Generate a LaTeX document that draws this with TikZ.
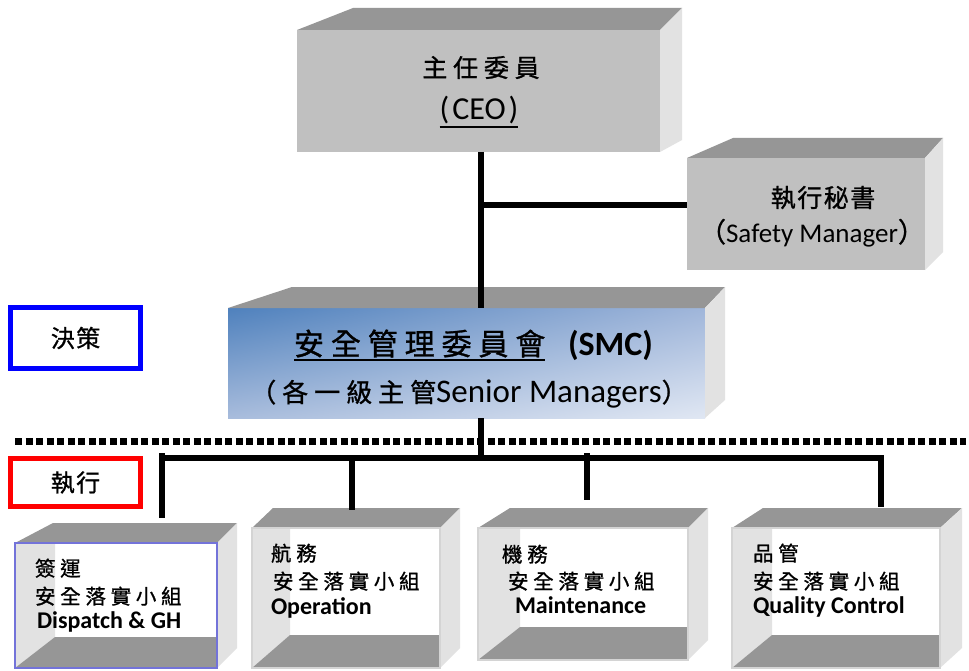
\documentclass[tikz,border=0pt]{standalone}
\usepackage{fontspec}
\setmainfont{Carlito}
\newfontfamily\cjk{Noto Sans CJK TC}[FakeBold=1]
\newfontfamily\cjkW{Noto Sans CJK TC}[LetterSpace=23,FakeBold=1]
\newfontfamily\cjkN{Noto Sans CJK TC}[LetterSpace=6,FakeBold=1]
\usetikzlibrary{calc,shadings}
\definecolor{topg}{RGB}{150,150,150}
\definecolor{frontg}{RGB}{192,192,192}
\definecolor{sideg}{RGB}{226,226,226}
\definecolor{smcUL}{RGB}{79,129,189}
\definecolor{smcUR}{RGB}{160,182,218}
\definecolor{smcLL}{RGB}{168,188,220}
\definecolor{smcLR}{RGB}{224,231,243}
\definecolor{dispblue}{RGB}{115,115,217}
\definecolor{framegray}{RGB}{212,212,212}
% open box: name, x1, y1, x2, y2, back-left x, back-right x, inner wall x, floor y
\newcommand\openbox[9]{%
  \node[face,fill=white,minimum width={#4-#2},minimum height={#5-#3}] (#1) at (#2,#3) {};
  \fill[sideg] (#1.north west) -- (#8,#3) -- (#8,#9) -- (#1.south west) -- cycle;
  \fill[topg] (#1.south west) -- (#8,#9) -- (#4,#9) -- (#1.south east) -- cycle;
  \fill[topg] (#1.north west) -- (#6,#3-20) -- (#7,#3-20) -- (#1.north east) -- cycle;
  \fill[sideg] (#1.north east) -- (#7,#3-20) -- (#7,#5-20) -- (#1.south east) -- cycle;
}
\begin{document}
\begin{tikzpicture}[x=1pt,y=-1pt,
  face/.style={inner sep=0pt,outer sep=0pt,anchor=north west},
  conn/.style={line width=5.5pt},
  txt/.style={inner sep=0pt,outer sep=0pt},
  ulin/.style={line width=1.8pt}]
\useasboundingbox[fill=white] (0,0) rectangle (969,671);

% ---------- CEO box ----------
\node[face,fill=frontg,minimum width=363pt,minimum height=122pt] (ceo) at (297,30) {};
\fill[topg] (ceo.north west) -- (353,8) -- (682,8) -- (ceo.north east) -- cycle;
\fill[sideg] (ceo.north east) -- (682,8) -- (682,140) -- (ceo.south east) -- cycle;
\node[txt,anchor=base] (ceoT1) at (481,77) {\fontsize{25}{25}\cjkW 主任委員};
\node[txt,anchor=base] (ceoT2) at (479,120) {\fontsize{32}{32}\selectfont (\hspace{3pt}CEO\hspace{3pt})};
\draw[ulin] ([yshift=-7pt]ceoT2.base west) -- ([yshift=-7pt]ceoT2.base east);

% ---------- Safety Manager box ----------
\node[face,fill=frontg,minimum width=238pt,minimum height=112pt] (sm) at (687,158) {};
\fill[topg] (sm.north west) -- (733,138) -- (943,138) -- (sm.north east) -- cycle;
\fill[sideg] (sm.north east) -- (943,138) -- (943,252) -- (sm.south east) -- cycle;
\node[txt,anchor=base] (smT1) at (823,207) {\fontsize{25}{25}\cjkN 執行秘書};
\node[txt,anchor=base] (smT2) at (812,242) {{\fontsize{27}{27}\cjk （}{\fontsize{27}{27}\selectfont Safety Manager}{\fontsize{27}{27}\cjk ）}};

% ---------- SMC box ----------
\node[face,minimum width=477pt,minimum height=110pt] (smc) at (228,308) {};
\shade[upper left=smcUL,upper right=smcUR,lower left=smcLL,lower right=smcLR]
  (smc.north west) rectangle (smc.south east);
\fill[topg] (smc.north west) -- (292,287) -- (725,287) -- (smc.north east) -- cycle;
\fill[sideg] (smc.north east) -- (725,287) -- (725,400) -- (smc.south east) -- cycle;
\node[txt,anchor=base west] (smcT1) at (294,355) {\fontsize{30}{30}\cjkW 安全管理委員會};
\draw[ulin] ([yshift=-5pt]smcT1.base west) -- ([yshift=-5pt]smcT1.base east);
\node[txt,anchor=base west] (smcT2) at (568,355) {\fontsize{34}{34}\bfseries (SMC)};
\node[txt,anchor=base] (smcT3) at (469,402) {{\fontsize{26}{26}\cjkW （各一級主管}{\fontsize{33}{33}\selectfont Senior Managers}{\fontsize{26}{26}\cjk ）}};

% ---------- side labels ----------
\node[draw=blue,line width=5pt,minimum width=130pt,minimum height=61pt,inner sep=0pt] (jue) at (75.5,338) {\fontsize{24}{24}\cjkN 決策};
\node[draw=red,line width=5pt,minimum width=130pt,minimum height=48pt,inner sep=0pt] (zhi) at (75.5,482.5) {\fontsize{24}{24}\cjkN 執行};

% ---------- dotted divider ----------
\coordinate (dotL) at (15,441);
\coordinate (dotR) at (966,441);
\draw[line width=7pt,dash pattern=on 7pt off 3.5pt] (dotL) -- (dotR);

% ---------- bottom open boxes ----------
\openbox{disp}{15}{543}{217}{668}{53}{237}{55}{637}
\draw[dispblue,line width=2pt] (disp.north west) rectangle (disp.south east);
\openbox{oper}{252}{528}{440}{668}{273}{460}{290}{635}
\draw[framegray,line width=2pt] (oper.north west) rectangle (oper.south east);
\openbox{mnt}{478}{528}{688}{660}{510}{708}{520}{627}
\draw[framegray,line width=2pt] (mnt.north west) rectangle (mnt.south east);
\openbox{qc}{732}{528}{940}{668}{763}{962}{772}{635}
\draw[framegray,line width=2pt] (qc.north west) rectangle (qc.south east);

\node[txt,anchor=base west] (dT1) at (35,576) {\fontsize{20.5}{20.5}\cjkW 簽運};
\node[txt,anchor=base west] (dT2) at (35,604) {\fontsize{20.5}{20.5}\cjkW 安全落實小組};
\node[txt,anchor=base west] (dT3) at (37,628) {\fontsize{24}{24}\bfseries Dispatch \& GH};

\node[txt,anchor=base west] (oT1) at (271,561) {\fontsize{20.5}{20.5}\cjkW 航務};
\node[txt,anchor=base west] (oT2) at (273,589) {\fontsize{20.5}{20.5}\cjkW 安全落實小組};
\node[txt,anchor=base west] (oT3) at (271,614) {\fontsize{24}{24}\bfseries Operation};

\node[txt,anchor=base west] (mT1) at (502,562) {\fontsize{20.5}{20.5}\cjkW 機務};
\node[txt,anchor=base west] (mT2) at (508,589) {\fontsize{20.5}{20.5}\cjkW 安全落實小組};
\node[txt,anchor=base west] (mT3) at (515,613) {\fontsize{24}{24}\bfseries Maintenance};

\node[txt,anchor=base west] (qT1) at (753,561) {\fontsize{20.5}{20.5}\cjkW 品管};
\node[txt,anchor=base west] (qT2) at (753,589) {\fontsize{20.5}{20.5}\cjkW 安全落實小組};
\node[txt,anchor=base west] (qT3) at (753,613) {\fontsize{24}{24}\bfseries Quality Control};

% ---------- connectors ----------
\coordinate (ax) at (481,0);
\draw[conn] (ceo.south -| ax) -- (smc.north -| ax);
\coordinate (br) at (481,205);
\draw[conn] (br) -- (br -| sm.west);
\coordinate (bus) at (481,458);
\draw[conn] (smc.south -| ax) -- (bus);
\coordinate (busL) at (159.25,458);
\coordinate (busR) at (881,458);
\coordinate (d1t) at (162,453);
\coordinate (d1b) at (162,518);
\coordinate (d2b) at (352,510);
\coordinate (d3t) at (587,453);
\coordinate (d3b) at (587,500);
\coordinate (d4b) at (881,507);
\draw[conn] (d1t) -- (d1b);
\draw[conn] (busL) -- (busR) -- (d4b);
\draw[conn] (d2b |- bus) -- (d2b);
\draw[conn] (d3t) -- (d3b);
\end{tikzpicture}
\end{document}
